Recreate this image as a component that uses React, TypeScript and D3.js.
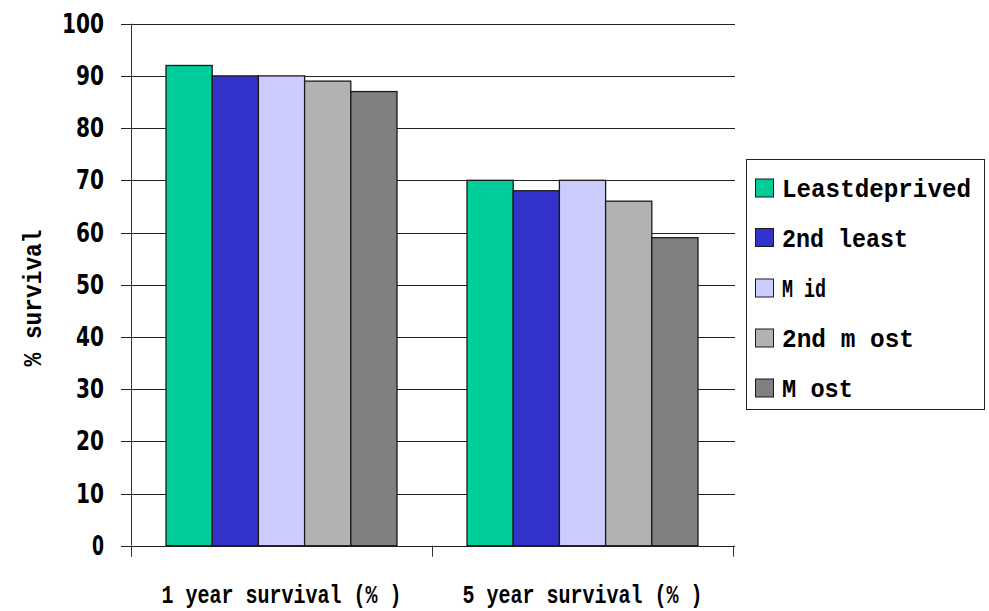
import React from "react";
import * as d3 from "d3";

const categories = ["1 year survival (%)", "5 year survival (%)"];
const seriesNames = ["Least deprived", "2nd least", "Mid", "2nd most", "Most"];
const legendLabels = ["Leastdeprived", "2nd least", "M id", "2nd m ost", "M ost"];
const oneYear = [92, 90, 90, 89, 87];
const fiveYear = [70, 68, 70, 66, 59];
const seriesColors = ["#00CC99", "#3333CC", "#CCCCFF", "#B2B2B2", "#808080"];
const yTicks = [0, 10, 20, 30, 40, 50, 60, 70, 80, 90, 100];

const values = [oneYear, fiveYear];

export default function App() {
  const width = 989;
  const height = 611;
  const left = 131;
  const right = 733;
  const top = 23.7;
  const bottom = 545.7;

  const y = d3.scaleLinear().domain([0, 100]).range([bottom, top]);
  const x0 = d3.scaleBand<string>().domain(categories).range([left, right]).padding(0);
  const x1 = d3
    .scaleBand<string>()
    .domain(seriesNames)
    .range([35, x0.bandwidth() - 35])
    .padding(0);

  const monoFont = "'Courier New', 'Liberation Mono', monospace";
  const sansFont = "'DejaVu Sans', 'Liberation Sans', sans-serif";

  const legendRows = [188, 237.5, 288, 338, 388];
  const legendWidths = [189, 126, 44, 132, 71];

  return (
    <svg
      width={width}
      height={height}
      style={{ position: "absolute", left: 0, top: 0, background: "#fff" }}
    >
      {/* horizontal gridlines with left ticks */}
      {yTicks.map((t) => (
        <line
          key={"g" + t}
          x1={121}
          x2={735}
          y1={Math.round(y(t)) + 0.5}
          y2={Math.round(y(t)) + 0.5}
          stroke="#222"
          strokeWidth={1}
        />
      ))}
      {/* tick labels */}
      {yTicks.map((t) => (
        <text
          key={"t" + t}
          x={104}
          y={y(t) + 9}
          textAnchor="end"
          fontFamily={sansFont}
          fontSize={26}
          fontWeight="bold"
          textLength={t === 100 ? 42 : t === 0 ? 12 : 28}
          lengthAdjust="spacingAndGlyphs"
          fill="#000"
        >
          {t}
        </text>
      ))}
      {/* y axis line */}
      <line x1={131.5} x2={131.5} y1={top} y2={bottom} stroke="#333" strokeWidth={1} />
      {/* category ticks */}
      {[left, left + x0.bandwidth(), right].map((xv, i) => (
        <line
          key={"c" + i}
          x1={Math.round(xv) + 0.5}
          x2={Math.round(xv) + 0.5}
          y1={bottom}
          y2={bottom + 11}
          stroke="#333"
          strokeWidth={1}
        />
      ))}
      {/* bars */}
      {categories.map((cat, ci) => (
        <g key={cat} transform={`translate(${x0(cat)},0)`}>
          {seriesNames.map((s, si) => {
            const v = values[ci][si];
            return (
              <rect
                key={s}
                x={x1(s)}
                y={y(v)}
                width={x1.bandwidth()}
                height={y(0) - y(v)}
                fill={seriesColors[si]}
                stroke="#1a1a1a"
                strokeWidth={1.3}
              />
            );
          })}
        </g>
      ))}
      {/* category labels */}
      {categories.map((cat, ci) => (
        <text
          key={"l" + cat}
          x={(x0(cat) as number) + x0.bandwidth() / 2}
          y={603}
          textAnchor="middle"
          fontFamily={monoFont}
          fontSize={25}
          fontWeight="bold"
          textLength={240}
          lengthAdjust="spacingAndGlyphs"
          fill="#000"
        >
          {ci === 0 ? "1 year survival (% )" : "5 year survival (% )"}
        </text>
      ))}
      {/* y axis title */}
      <text
        transform="translate(41,298) rotate(-90)"
        textAnchor="middle"
        fontFamily={monoFont}
        fontSize={25}
        fontWeight="bold"
        textLength={137}
        lengthAdjust="spacingAndGlyphs"
        fill="#000"
      >
        % survival
      </text>
      {/* legend */}
      <rect x={746.5} y={159.5} width={238} height={250} fill="#fff" stroke="#222" strokeWidth={1} />
      {seriesNames.map((s, si) => (
        <g key={"lg" + s}>
          <rect
            x={755.5}
            y={legendRows[si] - 9}
            width={18}
            height={18}
            fill={seriesColors[si]}
            stroke="#1a1a1a"
            strokeWidth={1}
          />
          <text
            x={782}
            y={legendRows[si] + 9}
            fontFamily={monoFont}
            fontSize={26}
            fontWeight="bold"
            textLength={legendWidths[si]}
            lengthAdjust="spacingAndGlyphs"
            fill="#000"
          >
            {legendLabels[si]}
          </text>
        </g>
      ))}
    </svg>
  );
}
